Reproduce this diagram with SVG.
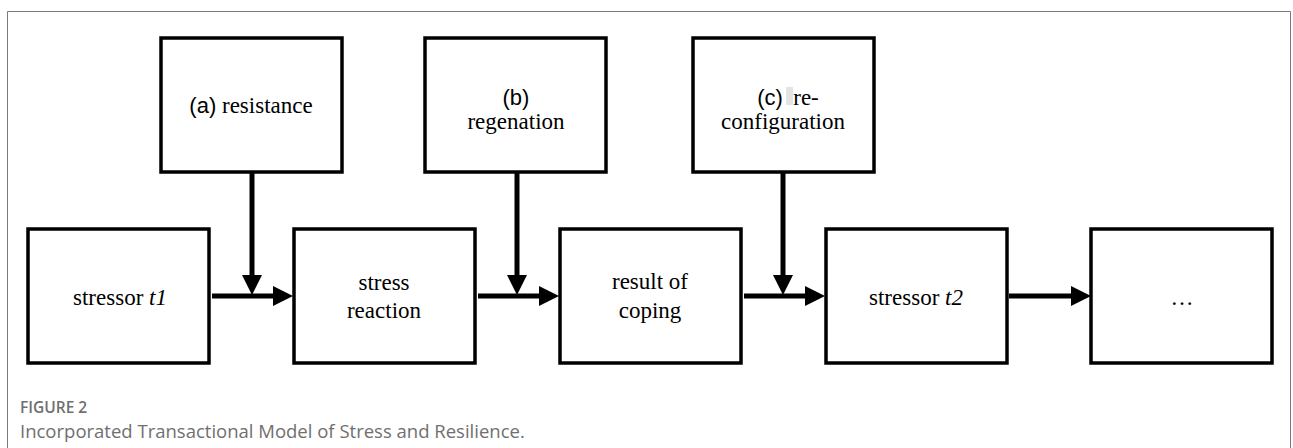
<svg xmlns="http://www.w3.org/2000/svg" width="1293" height="448" viewBox="0 0 1293 448">
<defs>
<style>
.box{fill:#fff;stroke:#000;stroke-width:3.5}
.lbl{font-family:"Liberation Serif","Times New Roman",serif;font-size:23px;fill:#000;text-anchor:middle}
.sans{font-family:"Liberation Sans",Arial,sans-serif;font-size:22px}
.conn{stroke:#000;stroke-width:5;fill:none;marker-end:url(#ah)}
.cap{font-family:"Open Sans","Noto Sans",sans-serif;fill:#6f6f6f}
</style>
<marker id="ah" markerUnits="userSpaceOnUse" markerWidth="20" markerHeight="20" refX="0" refY="10" orient="auto" viewBox="0 0 20 20">
<path d="M0,0 L20,10 L0,20 Z" fill="#000"/>
</marker>
</defs>
<rect width="1293" height="448" fill="#fff"/>
<path d="M7.5,448 V11.5 H1290.5 V448" fill="none" stroke="#7a7a7a" stroke-width="1"/>
<g id="connectors">
<line class="conn" x1="212" y1="296" x2="273" y2="296"/>
<line class="conn" x1="478" y1="296" x2="539" y2="296"/>
<line class="conn" x1="744" y1="296" x2="805" y2="296"/>
<line class="conn" x1="1009" y1="296" x2="1071" y2="296"/>
<line class="conn" x1="252" y1="173" x2="252" y2="275"/>
<line class="conn" x1="517" y1="173" x2="517" y2="275"/>
<line class="conn" x1="783" y1="173" x2="783" y2="275"/>
</g>
<g id="node-resistance">
<rect class="box" x="161" y="38" width="181" height="134"/>
<text class="lbl" x="251" y="113"><tspan class="sans">(a)</tspan> resistance</text>
</g>
<g id="node-regenation">
<rect class="box" x="425" y="38" width="181" height="134"/>
<text class="lbl sans" x="516" y="105">(b)</text>
<text class="lbl" x="516" y="129">regenation</text>
</g>
<g id="node-reconfiguration">
<rect class="box" x="693" y="38" width="181" height="134"/>
<rect x="786" y="87" width="7" height="18" fill="#e4e4e4"/>
<text class="lbl sans" x="770" y="105">(c)</text>
<text class="lbl" x="806" y="105">re-</text>
<text class="lbl" x="783" y="129">configuration</text>
</g>
<g id="node-stressor-t1">
<rect class="box" x="28" y="229" width="181" height="134"/>
<text class="lbl" x="120" y="305">stressor <tspan font-style="italic">t1</tspan></text>
</g>
<g id="node-stress-reaction">
<rect class="box" x="294" y="229" width="181" height="134"/>
<text class="lbl" x="384" y="290">stress</text>
<text class="lbl" x="384" y="318">reaction</text>
</g>
<g id="node-result-of-coping">
<rect class="box" x="560" y="229" width="181" height="134"/>
<text class="lbl" x="650" y="289">result of</text>
<text class="lbl" x="650" y="318">coping</text>
</g>
<g id="node-stressor-t2">
<rect class="box" x="826" y="229" width="181" height="134"/>
<text class="lbl" x="916" y="305">stressor <tspan font-style="italic">t2</tspan></text>
</g>
<g id="node-ellipsis">
<rect class="box" x="1091" y="229" width="181" height="134"/>
<text class="lbl" x="1182" y="305">…</text>
</g>
<text class="cap" x="20" y="413" font-size="15.5" font-weight="600">FIGURE 2</text>
<text class="cap" x="20" y="438" font-size="18.5">Incorporated Transactional Model of Stress and Resilience.</text>
</svg>
